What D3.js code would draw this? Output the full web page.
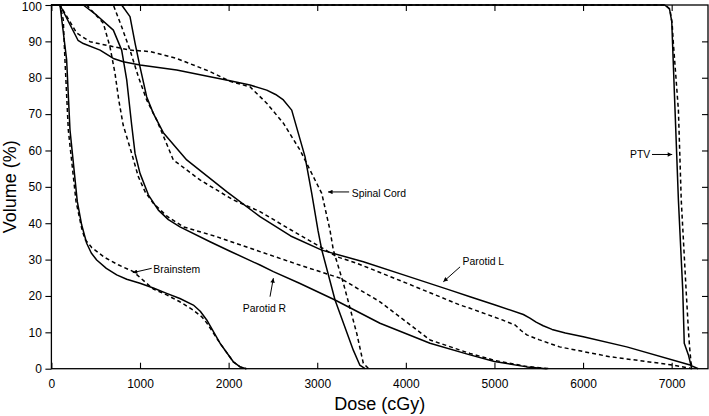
<!DOCTYPE html>
<html>
<head>
<meta charset="utf-8">
<script src="https://cdn.jsdelivr.net/npm/d3@7/dist/d3.min.js"></script>
<style>
  html, body { margin: 0; padding: 0; background: #fff; }
  svg { display: block; }
  text { font-family: "Liberation Sans", Arial, Helvetica, sans-serif; fill: #000; }
</style>
</head>
<body>
<svg id="chart" width="709" height="416"></svg>
<script>
// ---------- data (dose in cGy, volume in %) ----------
const xTicks = [0, 1000, 2000, 3000, 4000, 5000, 6000, 7000];
const yTicks = [0, 10, 20, 30, 40, 50, 60, 70, 80, 90, 100];
const xLabel = "Dose (cGy)";
const yLabel = "Volume (%)";

const ptvSolid = [[0,100],[6920,100],[6975,99],[7001,95.4],[7038,71.1],[7076,46.4],[7125,21.6],[7142,7],[7189,3.8],[7227,0]];
const ptvDashed = [[0,100],[6930,100],[6980,98.8],[7005,95],[7019,89.5],[7076,71.1],[7108,46.4],[7163,21.6],[7189,10.6],[7202,6],[7219,1.5],[7235,0]];

const brainstemSolid = [[0,100],[97,100],[172,84.9],[210,65.6],[292,46],[342,39.5],[398,34.5],[450,31.8],[511,29.9],[620,27.6],[737,25.8],[850,24.6],[1000,23.5],[1150,22.2],[1301,20.7],[1450,19.3],[1602,17.5],[1680,15.8],[1753,13.4],[1903,7],[2053,1.9],[2130,0.5],[2200,0]];
const brainstemDashed = [[0,100],[97,100],[134,95.9],[153,84.9],[191,65.6],[278,46],[342,38.6],[380,35.5],[455,33.3],[600,30.6],[760,28.5],[925,26.7],[1050,24],[1150,21.9],[1301,20.3],[1450,18.4],[1602,16.1],[1700,14.2],[1753,12.6],[1903,7],[2053,1.9],[2130,0.5],[2200,0]];

const cordSolid = [[0,100],[97,100],[300,90.3],[360,89.4],[549,87.6],[699,85.3],[811,84.4],[1000,83.5],[1414,82.1],[1790,80.3],[2016,79.2],[2241,78],[2430,76.6],[2530,75.4],[2618,73.9],[2712,71.1],[2787,64.7],[2862,58.3],[2938,48.2],[3008,38.1],[3051,32.7],[3201,18.9],[3407,5.1],[3480,1],[3540,0]];
const cordDashed = [[0,100],[97,100],[285,92.3],[436,89.9],[549,89.3],[887,87.6],[1113,87.2],[1414,85.3],[1790,81.7],[2016,79],[2241,77.5],[2430,73],[2618,67.5],[2806,60.1],[2919,54.6],[3051,48.2],[3144,38.1],[3182,32.6],[3295,23.5],[3446,9.7],[3520,1.5],[3580,0]];

const parotidRSolid = [[0,100],[360,100],[511,97.2],[699,93.1],[793,87.6],[850,79.4],[906,67],[944,59.2],[1000,53.7],[1094,47.8],[1207,43.6],[1320,41],[1451,39],[1790,34.9],[2016,32.3],[2354,28.5],[2505,26.7],[2800,23.5],[3201,18.9],[3708,12.5],[4273,7],[4724,3.8],[5000,2],[5365,0.5],[5590,0]];
const parotidRDashed = [[0,100],[398,100],[586,95],[661,88.5],[718,81.2],[760,73.9],[810,67],[906,59.2],[981,52.8],[1060,48.5],[1150,45.5],[1300,42],[1489,39],[1865,36.3],[2016,35],[2354,32.2],[2800,28.5],[3144,25.8],[3258,24.9],[3708,18.4],[4273,7.9],[4724,4.2],[5000,2.3],[5365,0.6],[5620,0]];

const parotidLSolid = [[0,100],[793,100],[887,96.8],[944,89.5],[1000,83],[1075,74.8],[1150,70.2],[1263,64.9],[1527,57.4],[1978,48.7],[2354,41.8],[2700,36.5],[3051,32.6],[3520,29.4],[4000,25.6],[4500,21.6],[4724,19.8],[5000,17.6],[5326,14.9],[5400,13.9],[5470,12.8],[5550,11.8],[5650,10.8],[5800,9.8],[6003,8.8],[6493,6],[7208,1],[7300,0]];
const parotidLDashed = [[0,100],[699,100],[793,94],[887,87.6],[981,80.3],[1075,73.9],[1188,68.4],[1376,57.4],[1677,51.9],[2053,46.4],[2354,43.2],[2700,38.2],[3069,33],[3220,30.8],[3446,29],[4000,23.6],[4612,17.5],[4724,16.6],[5100,13.3],[5233,12],[5300,10.5],[5365,9.3],[5500,8],[5735,6],[6300,3.3],[7019,1],[7230,0]];

const seriesList = [
  { name: "PTV", solid: ptvSolid, dashed: ptvDashed },
  { name: "Brainstem", solid: brainstemSolid, dashed: brainstemDashed },
  { name: "Spinal Cord", solid: cordSolid, dashed: cordDashed },
  { name: "Parotid R", solid: parotidRSolid, dashed: parotidRDashed },
  { name: "Parotid L", solid: parotidLSolid, dashed: parotidLDashed }
];

// annotations: label, text anchor and arrow from/to (data coords)
const annotations = [
  { label: "PTV",         text: [6530, 57.8], from: [6778, 58.9], to: [7006, 58.9] },
  { label: "Spinal Cord", text: [3390, 47.3], from: [3360, 48.6], to: [3122, 48.6] },
  { label: "Brainstem",   text: [1150, 26.3], from: [1132, 27.6], to: [918, 26.4] },
  { label: "Parotid R",   text: [2160, 15.7], from: [2467, 19.8], to: [2505, 24.9] },
  { label: "Parotid L",   text: [4640, 28.5], from: [4612, 28.0], to: [4423, 23.9] }
];

// ---------- layout ----------
const svg = d3.select("#chart");
const x = d3.scaleLinear().domain([0, 7410]).range([51.4, 708]);
const y = d3.scaleLinear().domain([0, 100]).range([368.7, 5]);

svg.append("defs").append("marker")
  .attr("id", "arrow")
  .attr("viewBox", "0 0 10 10")
  .attr("refX", 10).attr("refY", 5)
  .attr("markerWidth", 6.5).attr("markerHeight", 4.5)
  .attr("markerUnits", "userSpaceOnUse")
  .attr("orient", "auto")
  .append("path").attr("d", "M0,0 L10,5 L0,10 Z").attr("fill", "#000");

const line = d3.line().x(d => x(d[0])).y(d => y(d[1]));

const curves = svg.append("g").attr("fill", "none").attr("stroke", "#000").attr("stroke-linejoin", "round");
seriesList.forEach(s => {
  curves.append("path").attr("d", line(s.dashed)).attr("stroke-width", 1.5).attr("stroke-dasharray", "4,3");
  curves.append("path").attr("d", line(s.solid)).attr("stroke-width", 1.5);
});

// axes
const fontTick = 12;
const gB = svg.append("g").attr("transform", `translate(0,${y(0)})`)
  .call(d3.axisBottom(x).tickValues(xTicks).tickSize(-6).tickSizeOuter(0).tickPadding(11).tickFormat(d3.format("d")));
const gT = svg.append("g").attr("transform", `translate(0,${y(100)})`)
  .call(d3.axisTop(x).tickValues(xTicks).tickSize(-6).tickSizeOuter(0).tickFormat(""));
const gL = svg.append("g").attr("transform", `translate(${x(0)},0)`)
  .call(d3.axisLeft(y).tickValues(yTicks).tickSize(6).tickSizeOuter(0).tickPadding(3.5).tickFormat(d3.format("d")));
const gR = svg.append("g").attr("transform", `translate(${x(7410)},0)`)
  .call(d3.axisRight(y).tickValues(yTicks.filter(v => v > 0 && v < 100)).tickSize(-6).tickSizeOuter(0).tickFormat(""));

[gB, gT, gL, gR].forEach(g => {
  g.select(".domain").remove();
  g.selectAll(".tick line").attr("stroke", "#000").attr("stroke-width", 1.1);
  g.selectAll("text").attr("font-size", fontTick).attr("fill", "#000")
    .attr("font-family", "'Liberation Sans', Arial, sans-serif");
});
// keep the top label inside the picture
gL.selectAll(".tick").filter(d => d === 100).select("text").attr("dy", "0.42em");

// frame
svg.append("rect")
  .attr("x", x(0)).attr("y", y(100))
  .attr("width", x(7410) - x(0)).attr("height", y(0) - y(100))
  .attr("fill", "none").attr("stroke", "#000").attr("stroke-width", 1.3);

// axis titles
svg.append("text").attr("x", (x(0) + x(7410)) / 2).attr("y", 410)
  .attr("text-anchor", "middle").attr("font-size", 18).text(xLabel);
svg.append("text")
  .attr("transform", `translate(16,${(y(0) + y(100)) / 2}) rotate(-90)`)
  .attr("text-anchor", "middle").attr("font-size", 18).text(yLabel);

// annotations
const ann = svg.append("g");
annotations.forEach(a => {
  ann.append("text").attr("x", x(a.text[0])).attr("y", y(a.text[1]))
    .attr("font-size", 10.4).text(a.label);
  ann.append("line")
    .attr("x1", x(a.from[0])).attr("y1", y(a.from[1]))
    .attr("x2", x(a.to[0])).attr("y2", y(a.to[1]))
    .attr("stroke", "#000").attr("stroke-width", 1)
    .attr("marker-end", "url(#arrow)");
});
</script>
</body>
</html>
